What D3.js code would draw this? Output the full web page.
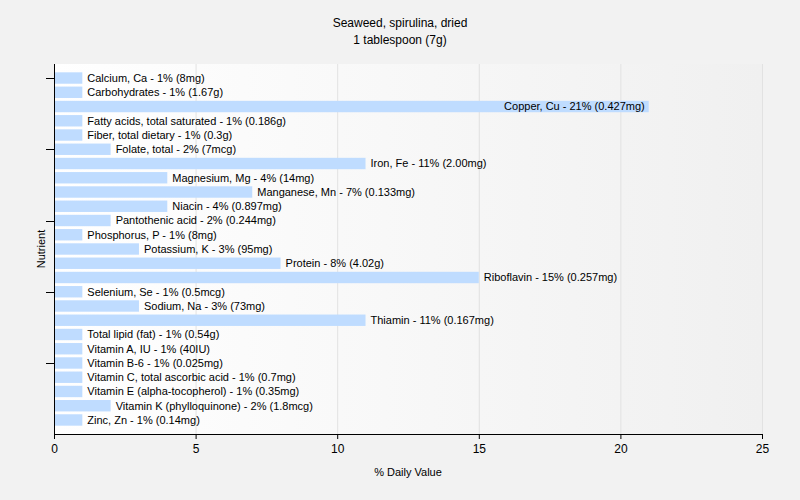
<!DOCTYPE html>
<html><head><meta charset="utf-8">
<script src="https://cdn.jsdelivr.net/npm/d3@7"></script>
<style>body{margin:0;background:#f2f2f2;} svg{display:block;} text{font-family:Tahoma,"Liberation Sans",Arial,sans-serif;}</style>
</head><body>
<svg id="c" width="800" height="500"></svg>
<script>
const nutrients = ["Calcium, Ca","Carbohydrates","Copper, Cu","Fatty acids, total saturated","Fiber, total dietary","Folate, total","Iron, Fe","Magnesium, Mg","Manganese, Mn","Niacin","Pantothenic acid","Phosphorus, P","Potassium, K","Protein","Riboflavin","Selenium, Se","Sodium, Na","Thiamin","Total lipid (fat)","Vitamin A, IU","Vitamin B-6","Vitamin C, total ascorbic acid","Vitamin E (alpha-tocopherol)","Vitamin K (phylloquinone)","Zinc, Zn"];
const dailyValues = [1,1,21,1,1,2,11,4,7,4,2,1,3,8,15,1,3,11,1,1,1,1,1,2,1];
const amounts = ["8mg","1.67g","0.427mg","0.186g","0.3g","7mcg","2.00mg","14mg","0.133mg","0.897mg","0.244mg","8mg","95mg","4.02g","0.257mg","0.5mcg","73mg","0.167mg","0.54g","40IU","0.025mg","0.7mg","0.35mg","1.8mcg","0.14mg"];
const xTicks = [0,5,10,15,20,25];
const titleLines = ["Seaweed, spirulina, dried","1 tablespoon (7g)"];

const svg = d3.select("#c");
const L = 54, R = 762, T = 64, B = 434;
const x = d3.scaleLinear().domain([0,25]).range([L,R]);
const y = d3.scaleBand().domain(nutrients).range([T+6.9, B-6.9]).paddingInner(0.2).paddingOuter(0.1);

const defs = svg.append("defs");
const g = defs.append("linearGradient").attr("id","bg").attr("x1","0").attr("x2","1").attr("y1","0").attr("y2","0");
g.append("stop").attr("offset","0").attr("stop-color","#ffffff");
g.append("stop").attr("offset","1").attr("stop-color","#f0f0f0");
svg.append("rect").attr("x",L).attr("y",T).attr("width",R-L).attr("height",B-T).attr("fill","url(#bg)");

svg.append("g").selectAll("line").data(xTicks.filter(d=>d>0)).join("line")
  .attr("x1",d=>x(d)+0.5).attr("x2",d=>x(d)+0.5).attr("y1",T).attr("y2",B)
  .attr("stroke","#e2e2e2").attr("stroke-width",1);

svg.append("g").selectAll("rect").data(nutrients).join("rect")
  .attr("x",L+1).attr("y",d=>y(d)).attr("width",(d,i)=>x(dailyValues[i])-L-1).attr("height",y.bandwidth())
  .attr("fill","#bfdcff");

svg.append("g").selectAll("text").data(nutrients).join("text")
  .each(function(d,i){
    const t = d3.select(this);
    const s = `${d} - ${dailyValues[i]}% (${amounts[i]})`;
    t.text(s).attr("y", y(d)+y.bandwidth()/2).attr("dy","0.35em").attr("font-size","11px").attr("fill","#000");
    const w = this.getComputedTextLength();
    const xe = x(dailyValues[i]);
    if (xe + 5 + w > R) t.attr("x", xe-4).attr("text-anchor","end");
    else t.attr("x", xe+5).attr("text-anchor","start");
  });

// x axis
const xa = svg.append("g").attr("transform",`translate(0,${B})`)
  .call(d3.axisBottom(x).tickValues(xTicks).tickSize(5).tickSizeOuter(0));
xa.select(".domain").attr("stroke","#000");
xa.selectAll("line").attr("stroke","#000");
xa.selectAll("text").attr("font-size","12px").attr("fill","#000").attr("dy","0.9em");

// y axis
const ya = svg.append("g").attr("transform",`translate(${L},0)`);
ya.append("line").attr("x1",0.5).attr("x2",0.5).attr("y1",T).attr("y2",B).attr("stroke","#000");
ya.selectAll(".tk").data(nutrients.filter((d,i)=>i%5===0)).join("line").attr("class","tk")
  .attr("x1",-8).attr("x2",0).attr("y1",d=>Math.round(y(d)+y.bandwidth()/2)+0.5).attr("y2",d=>Math.round(y(d)+y.bandwidth()/2)+0.5)
  .attr("stroke","#000");

svg.append("text").attr("transform","translate(45,249) rotate(-90)").attr("text-anchor","middle")
  .attr("font-size","11px").attr("fill","#000").text("Nutrient");
svg.append("text").attr("x",408).attr("y",476).attr("text-anchor","middle").attr("font-size","11px").attr("fill","#000").text("% Daily Value");

svg.append("g").selectAll("text").data(titleLines).join("text")
  .attr("x",400).attr("y",(d,i)=>27+i*17).attr("text-anchor","middle").attr("font-size","12px").attr("fill","#000").text(d=>d);
</script>
</body></html>
